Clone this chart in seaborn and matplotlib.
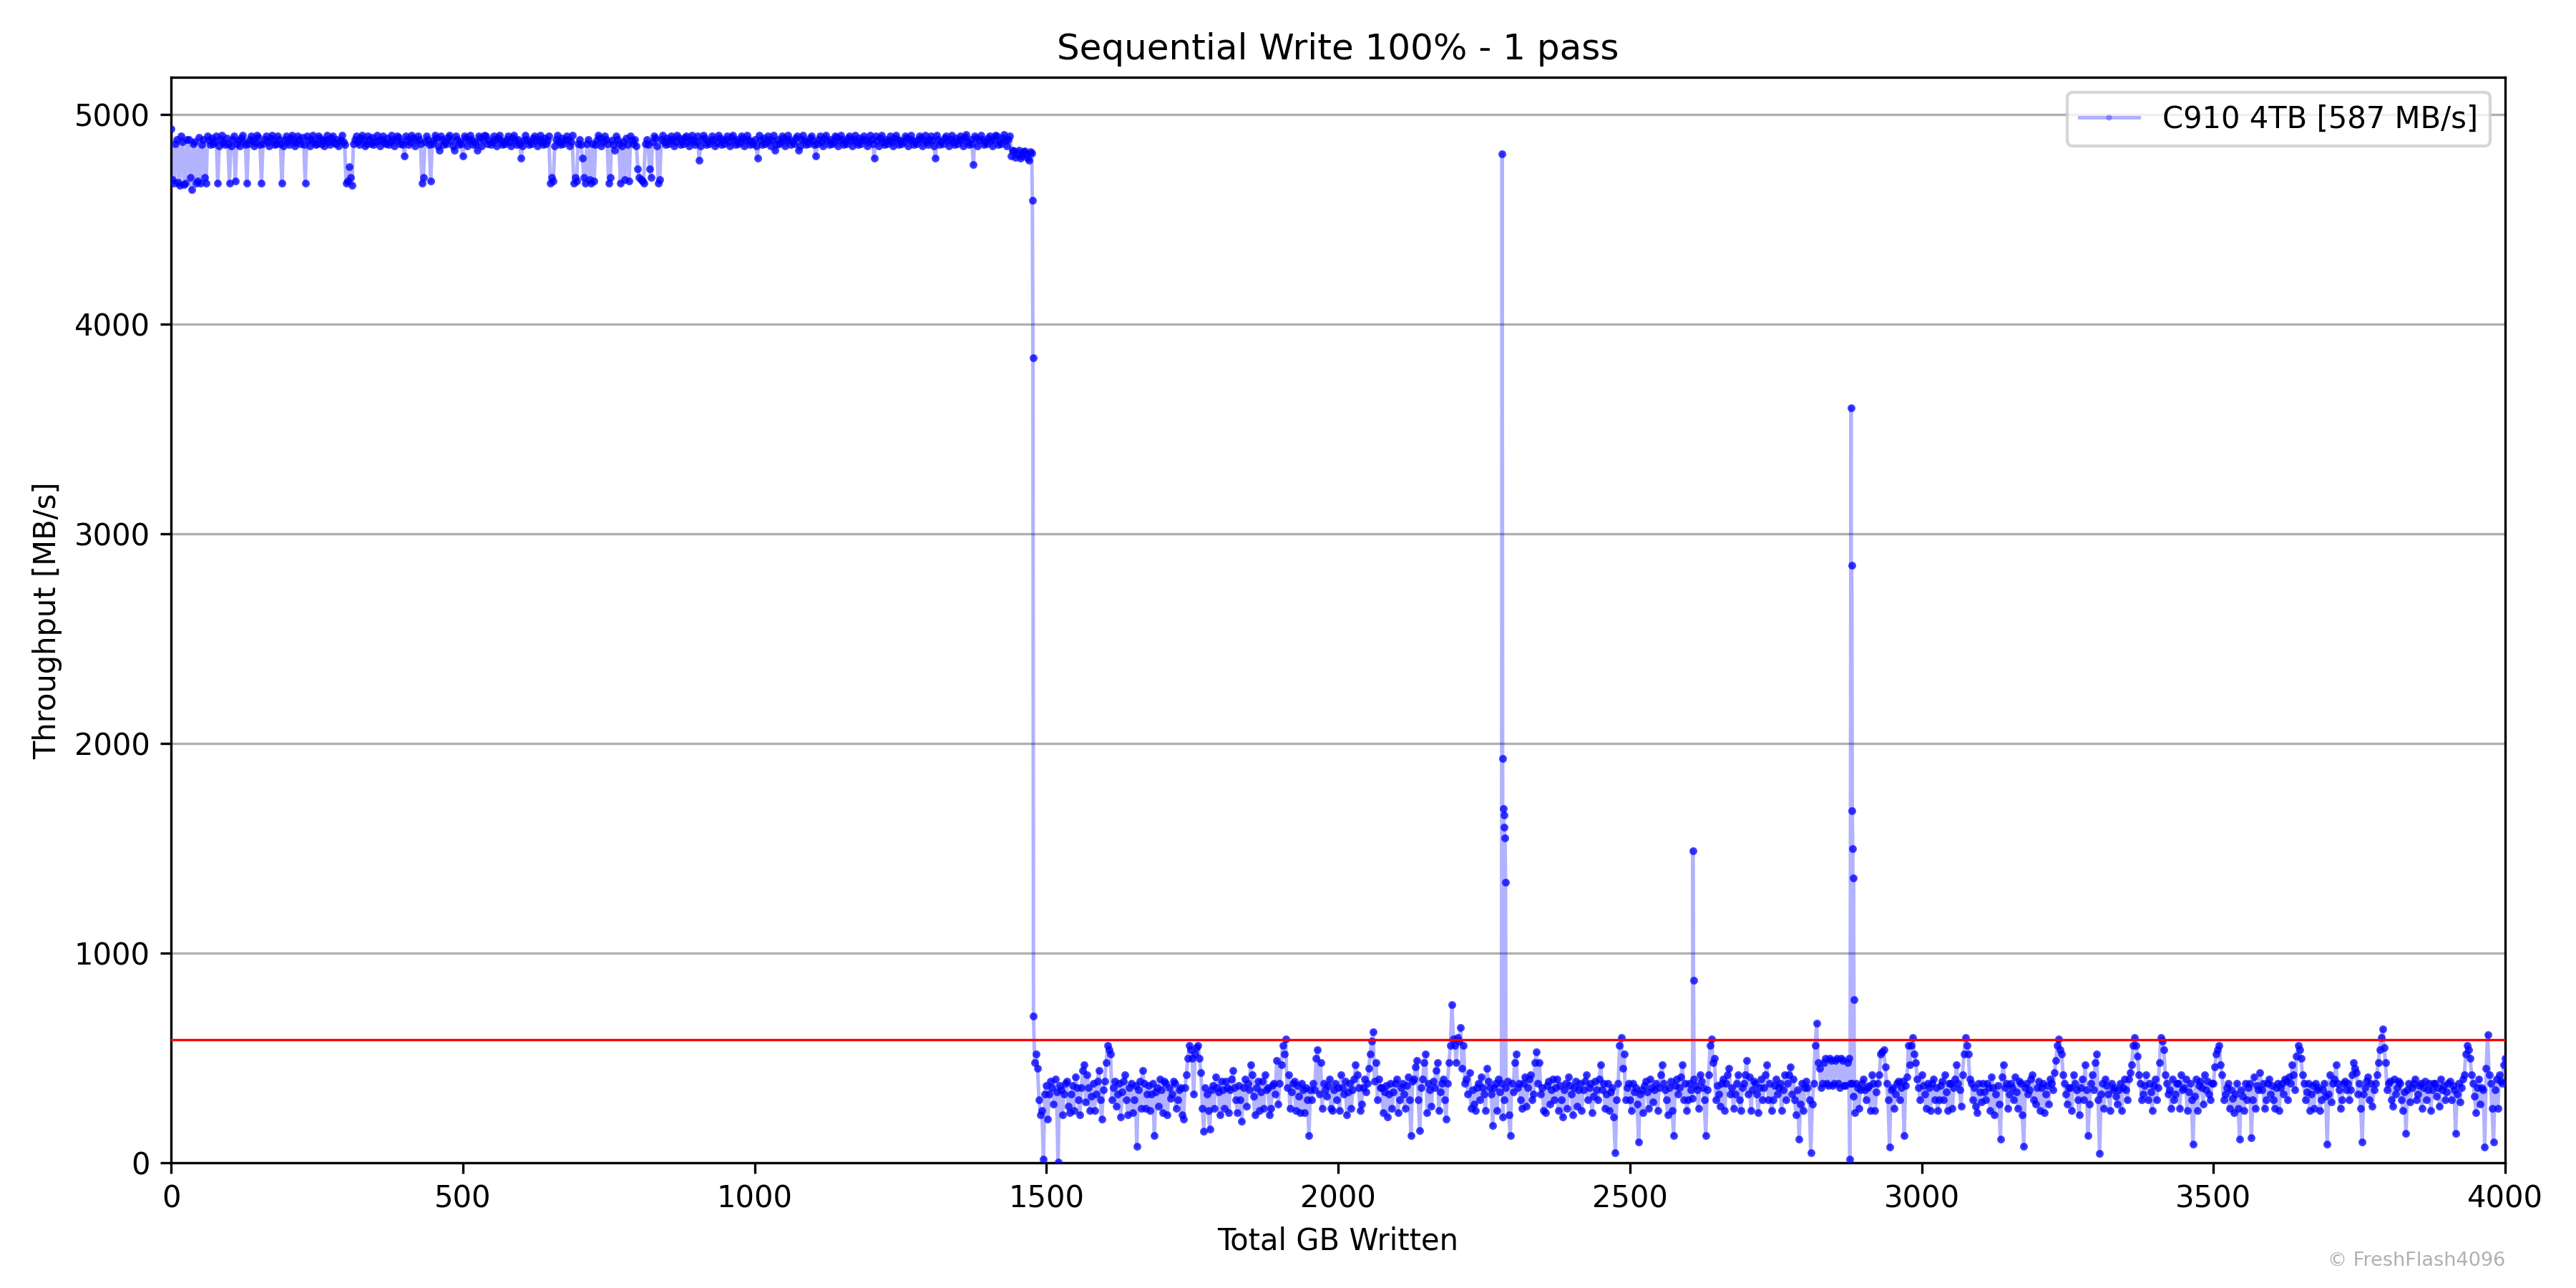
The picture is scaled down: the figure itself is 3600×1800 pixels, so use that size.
import numpy as np
import pandas as pd
import seaborn as sns
import matplotlib
matplotlib.use('Agg')
import matplotlib.pyplot as plt

AVG_MBS = 587
LABEL = f'C910 4TB [{AVG_MBS} MB/s]'

# phase 1: SLC cache, one value every 5 GB from 0 GB
cache_start, cache_step = 0, 5
cache_mbs = [
    4930, 4670, 4880, 4660, 4870, 4670, 4880, 4640, 4870, 4680, 4670, 4880, 4670, 4875, 4885, 4870, 4670, 4880, 4865, 4885,
    4670, 4880, 4680, 4875, 4885, 4870, 4670, 4880, 4875, 4865, 4890, 4670, 4880, 4870, 4885, 4875, 4860, 4880, 4670, 4880,
    4870, 4885, 4875, 4865, 4880, 4890, 4670, 4875, 4880, 4870, 4860, 4885, 4875, 4880, 4870, 4885, 4865, 4880, 4875, 4870,
    4670, 4750, 4660, 4880, 4870, 4885, 4875, 4860, 4880, 4890, 4870, 4875, 4880, 4865, 4885, 4870, 4880, 4875, 4890, 4870,
    4800, 4880, 4870, 4885, 4875, 4880, 4670, 4870, 4880, 4680, 4875, 4885, 4830, 4880, 4870, 4890, 4875, 4830, 4880, 4870,
    4800, 4885, 4875, 4880, 4870, 4830, 4885, 4880, 4895, 4875, 4870, 4880, 4885, 4875, 4865, 4880, 4870, 4885, 4875, 4880,
    4790, 4875, 4880, 4870, 4885, 4875, 4880, 4870, 4885, 4875, 4670, 4680, 4880, 4870, 4885, 4875, 4880, 4870, 4670, 4680,
    4880, 4790, 4670, 4880, 4670, 4680, 4875, 4885, 4870, 4880, 4670, 4875, 4830, 4880, 4670, 4870, 4885, 4680, 4875, 4880,
    4740, 4690, 4670, 4880, 4740, 4870, 4885, 4670, 4880, 4870, 4885, 4875, 4880, 4870, 4885, 4875, 4890, 4870, 4880, 4875,
    4870, 4780, 4880, 4885, 4870, 4875, 4880, 4865, 4885, 4875, 4880, 4870, 4890, 4875, 4880, 4870, 4885, 4875, 4880, 4870,
    4880, 4790, 4875, 4885, 4870, 4880, 4875, 4830, 4880, 4870, 4885, 4875, 4880, 4870, 4885, 4830, 4880, 4875, 4870, 4885,
    4875, 4800, 4880, 4870, 4885, 4875, 4880, 4870, 4890, 4875, 4880, 4870, 4885, 4875, 4880, 4870, 4885, 4875, 4880, 4870,
    4880, 4790, 4875, 4885, 4870, 4880, 4875, 4870, 4885, 4880, 4875, 4870, 4885, 4880, 4875, 4870, 4880, 4885, 4875, 4870,
    4880, 4875, 4790, 4880, 4870, 4885, 4875, 4880, 4870, 4885, 4875, 4880, 4890, 4870, 4880, 4760, 4885, 4875, 4880, 4870,
    4885, 4875, 4880, 4895, 4870, 4885, 4875, 4880,
]
# readings in between, from 2.5 GB
cache_mid_start = 2.5
cache_mid_mbs = [
    4690, 4860, 4675, 4895, 4665, 4880, 4700, 4860, 4670, 4890, 4855, 4700, 4895, 4855, 4860, 4895, 4850, 4900, 4855, 4860,
    4850, 4895, 4860, 4850, 4900, 4855, 4860, 4895, 4850, 4900, 4855, 4860, 4895, 4850, 4900, 4855, 4895, 4860, 4850, 4895,
    4855, 4900, 4850, 4895, 4860, 4855, 4895, 4850, 4900, 4855, 4895, 4860, 4850, 4900, 4855, 4895, 4860, 4850, 4900, 4855,
    4680, 4700, 4860, 4895, 4855, 4900, 4850, 4895, 4860, 4855, 4900, 4850, 4895, 4860, 4855, 4900, 4850, 4895, 4860, 4855,
    4895, 4855, 4900, 4850, 4895, 4860, 4700, 4895, 4855, 4860, 4900, 4850, 4895, 4855, 4860, 4900, 4850, 4895, 4855, 4860,
    4895, 4850, 4900, 4855, 4860, 4895, 4850, 4900, 4860, 4855, 4895, 4850, 4900, 4855, 4860, 4895, 4850, 4900, 4855, 4860,
    4850, 4900, 4855, 4860, 4895, 4850, 4900, 4855, 4860, 4895, 4700, 4850, 4900, 4855, 4860, 4895, 4850, 4900, 4700, 4860,
    4855, 4700, 4860, 4690, 4860, 4855, 4900, 4850, 4895, 4860, 4700, 4855, 4895, 4860, 4850, 4690, 4855, 4895, 4860, 4850,
    4700, 4680, 4860, 4855, 4700, 4895, 4850, 4690, 4900, 4855, 4860, 4895, 4850, 4900, 4855, 4860, 4895, 4850, 4900, 4855,
    4895, 4850, 4900, 4855, 4860, 4895, 4850, 4900, 4855, 4860, 4895, 4850, 4900, 4855, 4860, 4895, 4850, 4900, 4855, 4860,
    4850, 4900, 4855, 4860, 4895, 4850, 4900, 4855, 4860, 4895, 4850, 4900, 4855, 4860, 4895, 4850, 4900, 4855, 4860, 4895,
    4855, 4860, 4895, 4850, 4900, 4855, 4860, 4895, 4850, 4900, 4855, 4860, 4895, 4850, 4900, 4855, 4860, 4895, 4850, 4900,
    4860, 4895, 4850, 4900, 4855, 4860, 4895, 4850, 4900, 4855, 4860, 4895, 4850, 4900, 4855, 4860, 4895, 4850, 4900, 4855,
    4895, 4850, 4900, 4855, 4860, 4895, 4850, 4900, 4855, 4860, 4895, 4850, 4905, 4855, 4860, 4895, 4850, 4900, 4855, 4860,
    4895, 4850, 4900, 4855, 4860, 4905, 4850, 4895,
]

# phase 2: short plateau before the cache runs out
plateau_start, plateau_step = 1440, 5
plateau_mbs = [4800, 4825, 4810, 4790, 4820, 4810, 4780, 4815]
plateau_mid_start = 1442.5
plateau_mid_mbs = [4830, 4795, 4830, 4800, 4825, 4790, 4820]

# phase 3: after the cache, one value every 5 GB from 1480 GB
direct_start, direct_step = 1480, 5
direct_mbs = [
    480, 450, 230, 20, 370, 330, 360, 400, 5, 350,
    330, 390, 240, 370, 410, 300, 360, 470, 420, 250,
    380, 330, 440, 210, 390, 560, 520, 360, 270, 380,
    340, 420, 230, 380, 300, 80, 390, 440, 260, 370,
    330, 130, 360, 400, 240, 380, 360, 330, 380, 300,
    360, 210, 420, 560, 500, 520, 560, 430, 150, 330,
    160, 370, 410, 340, 390, 260, 360, 350, 440, 300,
    370, 200, 400, 380, 470, 320, 360, 250, 390, 420,
    360, 260, 380, 490, 380, 560, 590, 420, 340, 390,
    370, 240, 350, 360, 130, 300, 350, 540, 480, 380,
    320, 400, 250, 380, 360, 420, 330, 230, 380, 350,
    470, 360, 280, 400, 380, 520, 626, 480, 400, 360,
    340, 220, 380, 340, 400, 300, 380, 260, 410, 130,
    400, 490, 155, 400, 520, 380, 270, 360, 480, 340,
    400, 210, 480, 755, 560, 600, 645, 560, 400, 430,
    350, 250, 380, 410, 330, 450, 360, 180, 380, 400,
    380, 300, 390, 130, 340, 520, 380, 260, 410, 360,
    420, 330, 530, 480, 360, 240, 390, 350, 300, 400,
    370, 220, 380, 410, 330, 360, 270, 380, 350, 420,
    360, 240, 390, 300, 470, 380, 330, 250, 360, 50,
    380, 600, 520, 360, 300, 380, 360, 100, 350, 370,
    340, 400, 290, 380, 360, 470, 350, 230, 390, 130,
    400, 360, 470, 380, 300, 350, 400, 350, 420, 360,
    130, 420, 590, 500, 370, 270, 400, 380, 450, 360,
    330, 420, 250, 380, 490, 410, 350, 380, 240, 400,
    360, 470, 380, 300, 400, 360, 250, 420, 380, 460,
    400, 230, 115, 380, 360, 360, 50, 380, 666, 450,
    380, 500, 370, 490, 380, 500, 360, 490, 370, 500,
    380, 240, 360, 350, 400, 300, 370, 420, 250, 380,
    520, 540, 380, 75, 360, 330, 390, 360, 130, 410,
    470, 600, 480, 360, 420, 330, 380, 250, 400, 360,
    300, 390, 420, 250, 380, 360, 470, 350, 420, 600,
    520, 380, 360, 240, 340, 380, 300, 360, 410, 230,
    370, 115, 470, 380, 330, 360, 410, 260, 380, 80,
    380, 350, 420, 280, 390, 360, 240, 370, 400, 350,
    490, 590, 520, 380, 280, 360, 420, 350, 230, 400,
    470, 130, 380, 350, 520, 45, 380, 400, 330, 380,
    360, 280, 380, 360, 350, 400, 470, 600, 510, 380,
    330, 420, 380, 250, 400, 360, 600, 540, 380, 350,
    400, 330, 380, 420, 360, 250, 380, 90, 400, 370,
    360, 420, 390, 300, 380, 520, 560, 420, 330, 380,
    350, 240, 380, 115, 320, 380, 360, 120, 410, 370,
    430, 380, 300, 400, 370, 260, 380, 360, 330, 390,
    410, 470, 350, 560, 500, 380, 340, 250, 370, 380,
    360, 300, 380, 90, 420, 380, 470, 350, 300, 390,
    380, 350, 480, 430, 380, 100, 360, 410, 380, 350,
    420, 540, 638, 480, 380, 300, 400, 360, 380, 250,
    140, 380, 360, 400, 330, 380, 360, 300, 380, 350,
    380, 360, 400, 370, 340, 390, 370, 140, 380, 360,
    420, 560, 500, 380, 240, 400, 360, 75, 613, 380,
    100, 400, 420, 380, 500,
]
direct_mid_start = 1482.5
direct_mid_mbs = [
    520, 300, 250, 330, 210, 390, 280, 340, 370, 230,
    380, 270, 330, 250, 360, 230, 440, 290, 360, 320,
    250, 390, 300, 350, 480, 540, 300, 390, 330, 220,
    390, 300, 360, 240, 370, 350, 260, 380, 330, 250,
    380, 340, 270, 350, 390, 230, 310, 390, 260, 350,
    230, 360, 500, 540, 330, 550, 500, 260, 360, 250,
    350, 260, 360, 230, 350, 390, 240, 400, 360, 240,
    300, 360, 270, 350, 420, 230, 390, 340, 260, 350,
    230, 370, 330, 280, 470, 520, 360, 260, 380, 250,
    320, 380, 240, 300, 350, 380, 500, 330, 260, 350,
    370, 260, 350, 300, 250, 360, 390, 340, 260, 400,
    420, 250, 360, 340, 450, 580, 390, 300, 360, 240,
    370, 330, 260, 380, 240, 360, 330, 370, 300, 390,
    460, 300, 360, 480, 240, 350, 390, 440, 250, 380,
    300, 380, 560, 590, 480, 580, 450, 380, 330, 260,
    280, 360, 300, 360, 250, 390, 330, 360, 250, 340,
    220, 360, 230, 380, 480, 360, 300, 380, 270, 400,
    300, 480, 380, 330, 250, 370, 280, 400, 360, 250,
    300, 350, 260, 370, 230, 390, 350, 250, 390, 300,
    380, 320, 350, 400, 350, 260, 380, 340, 220, 300,
    560, 450, 300, 380, 250, 340, 280, 330, 240, 390,
    260, 360, 350, 250, 420, 380, 300, 360, 250, 370,
    330, 410, 300, 250, 380, 310, 370, 260, 390, 300,
    350, 560, 480, 300, 330, 380, 250, 420, 330, 260,
    380, 300, 360, 420, 330, 250, 390, 330, 360, 300,
    420, 300, 250, 370, 330, 380, 350, 300, 420, 330,
    300, 350, 280, 250, 390, 300, 280, 560, 480, 360,
    480, 380, 500, 370, 490, 380, 500, 370, 480, 380,
    320, 380, 260, 380, 350, 360, 250, 380, 340, 420,
    530, 460, 300, 350, 260, 380, 300, 390, 370, 560,
    560, 520, 400, 300, 370, 260, 360, 380, 300, 250,
    370, 300, 340, 380, 260, 400, 380, 270, 520, 560,
    400, 300, 270, 380, 290, 340, 380, 250, 360, 330,
    280, 410, 360, 260, 380, 300, 340, 390, 230, 360,
    330, 400, 300, 360, 250, 380, 330, 280, 380, 430,
    560, 540, 420, 330, 360, 250, 380, 300, 360, 300,
    350, 280, 420, 480, 300, 330, 260, 370, 250, 350,
    320, 350, 250, 400, 300, 430, 560, 560, 420, 300,
    370, 300, 340, 370, 300, 480, 580, 420, 330, 260,
    300, 380, 260, 350, 400, 340, 300, 320, 250, 390,
    280, 350, 330, 380, 460, 540, 470, 300, 360, 260,
    310, 330, 260, 350, 250, 300, 380, 300, 260, 350,
    350, 260, 380, 330, 300, 360, 250, 380, 400, 300,
    380, 420, 510, 540, 420, 300, 380, 330, 260, 350,
    250, 350, 320, 330, 290, 400, 380, 260, 380, 350,
    300, 420, 450, 330, 260, 330, 390, 300, 270, 380,
    480, 600, 550, 350, 390, 270, 330, 390, 300, 340,
    350, 290, 380, 300, 370, 260, 390, 350, 250, 380,
    320, 270, 350, 300, 380, 300, 350, 330, 290, 400,
    520, 540, 420, 320, 360, 280, 350, 450, 420, 260,
    350, 260, 390, 470,
]

# single points: the cache drop and the short spikes
spike_gb = [1476, 1477, 1478, 2281, 2282, 2283, 2284, 2285, 2286, 2287,
            2608, 2609, 2877, 2879, 2880, 2881, 2882, 2883, 2884]
spike_mbs = [4590, 3840, 700, 4810, 1930, 1690, 1660, 1600, 1550, 1340,
             1490, 870, 18, 3600, 2850, 1680, 1500, 1360, 780]


def segment(start, step, vals):
    return pd.DataFrame({'gb': start + step * np.arange(len(vals)), 'mbs': vals})


df = pd.concat([
    segment(cache_start, cache_step, cache_mbs),
    segment(cache_mid_start, cache_step, cache_mid_mbs),
    segment(plateau_start, plateau_step, plateau_mbs),
    segment(plateau_mid_start, plateau_step, plateau_mid_mbs),
    segment(direct_start, direct_step, direct_mbs),
    segment(direct_mid_start, direct_step, direct_mid_mbs),
    pd.DataFrame({'gb': spike_gb, 'mbs': spike_mbs}),
], ignore_index=True).sort_values('gb')

fig, ax = plt.subplots(figsize=(12, 6), dpi=300)
fig.subplots_adjust(left=0.0664, right=0.9725, bottom=0.097, top=0.94)

sns.lineplot(data=df, x='gb', y='mbs', ax=ax, color='blue', alpha=0.3, linewidth=1.2,
             marker='o', markersize=2.0, markeredgewidth=0, estimator=None, sort=True,
             label=LABEL, zorder=2)
# denser dot layer so the busy bands read as solid blue like the original
sns.scatterplot(data=df, x='gb', y='mbs', ax=ax, color='blue', s=7, alpha=0.7,
                linewidth=0, legend=False, zorder=3)
ax.axhline(AVG_MBS, color='red', linewidth=0.8, zorder=4)

ax.set_xlim(0, 4000)
ax.set_ylim(bottom=0)
ax.grid(axis='y', color='#b0b0b0', linewidth=0.8)
ax.set_axisbelow(True)
ax.set_title('Sequential Write 100% - 1 pass')
ax.set_xlabel('Total GB Written')
ax.set_ylabel('Throughput [MB/s]')
ax.legend(loc='upper right')

fig.text(0.9725, 0.014, '© FreshFlash4096', ha='right', va='bottom', fontsize=6.5, color='#b0b0b0')

plt.savefig('out.png')
